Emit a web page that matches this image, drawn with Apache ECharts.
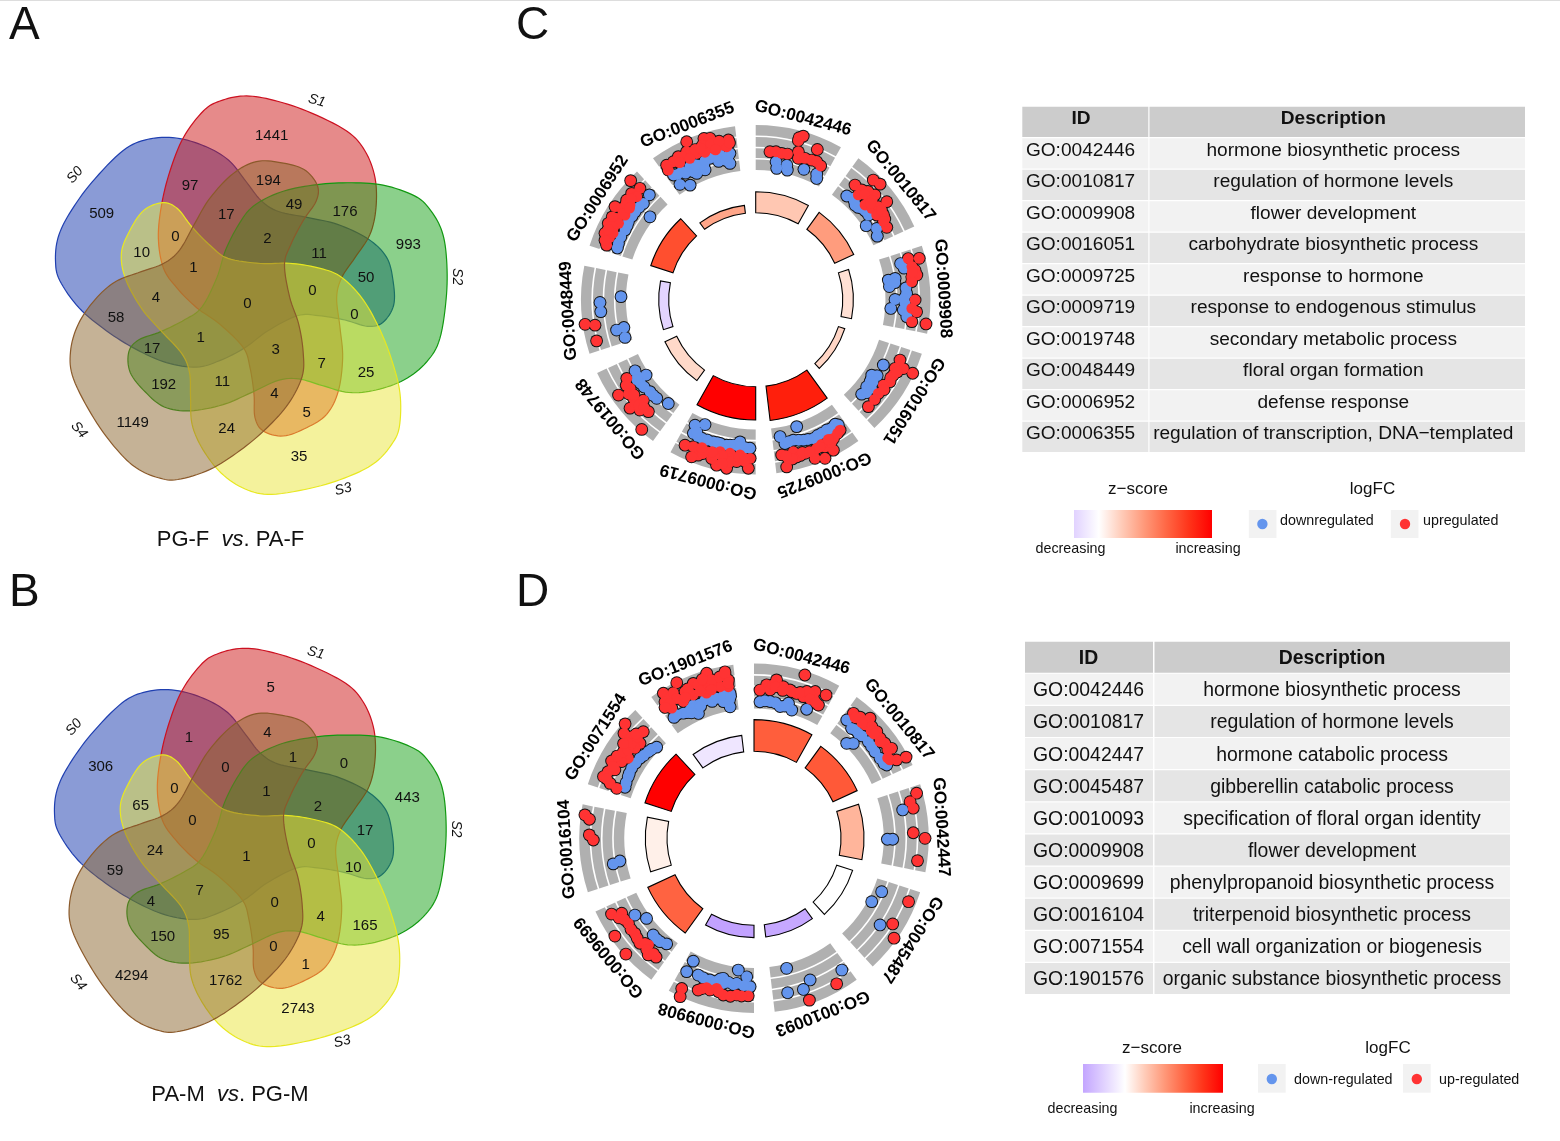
<!DOCTYPE html>
<html><head><meta charset="utf-8">
<style>html,body{margin:0;padding:0;background:#fff}#c{width:1560px;height:1141px}</style>
<script src="https://cdn.jsdelivr.net/npm/echarts@6/dist/echarts.min.js"></script>
</head><body><div id="c"></div>
<script>
// ---------- DATA ----------
const setNames = ['S0','S1','S2','S3','S4'];
const countsA = [509,1441,993,35,1149,97,194,49,176,17,2,11,50,10,0,1,0,0,0,4,58,1,17,3,7,25,192,11,4,5,24];
const countsB = [306,5,443,2743,4294,1,4,1,0,0,1,2,17,65,0,0,1,0,10,24,59,7,4,0,4,165,150,95,0,1,1762];
const countSpots = [[215,400],[725,165],[1135,493],[807,1128],[308,1027],[480,315],[715,300],[792,373],[945,392],[589,403],[712,475],[867,520],[1008,592],[335,517],[436,468],[490,562],[652,670],[847,631],[973,703],[378,652],[258,712],[512,772],[366,805],[737,808],[875,850],[1008,877],[401,912],[577,904],[733,940],[830,996],[590,1043]];
const blobOutline = [[640,45],[720,55],[830,90],[950,150],[1005,210],[1035,290],[1038,380],[1020,460],[975,530],[935,590],[920,650],[930,740],[938,830],[925,930],[890,1000],[830,1040],[760,1065],[700,1050],[675,1010],[672,940],[660,860],[640,800],[570,730],[500,680],[440,620],[400,560],[385,470],[395,370],[420,270],[460,170],[520,90],[570,60]];

const idsC = ['GO:0042446','GO:0010817','GO:0009908','GO:0016051','GO:0009725','GO:0009719','GO:0019748','GO:0048449','GO:0006952','GO:0006355'];
const descC = ['hormone biosynthetic process','regulation of hormone levels','flower development','carbohydrate biosynthetic process','response to hormone','response to endogenous stimulus','secondary metabolic process','floral organ formation','defense response','regulation of transcription, DNA\u2212templated'];
const idsD = ['GO:0042446','GO:0010817','GO:0042447','GO:0045487','GO:0010093','GO:0009908','GO:0009699','GO:0016104','GO:0071554','GO:1901576'];
const descD = ['hormone biosynthetic process','regulation of hormone levels','hormone catabolic process','gibberellin catabolic process','specification of floral organ identity','flower development','phenylpropanoid biosynthetic process','triterpenoid biosynthetic process','cell wall organization or biogenesis','organic substance biosynthetic process'];

const barHeightC = [6.3,6.3,3.2,2.0,10.4,10,3.9,3,7,2.4];
const zScoreC = [2.2,3.9,1.2,1.6,8.8,10,1.5,-1,6.9,3.5];
const barHeightD = [9.5,8,6.9,5,3.7,3.7,9,6.5,8.3,5];
const zScoreD = [6.3,6.5,2.9,0,-2,-2.15,6.1,0.6,10,-0.58];
const sectorStart = [0,36,72,108,144,180,216,252,288,324];
const sectorSpan = 29.2;
const ringLevels = [-3,-1.5,0,1.5,3];

// [logFC, angle in degrees clockwise from top]
const upC = [[2.07,15],[2.42,16.2],[1.67,15],[1.36,22.3],[-.47,5.5],[-.38,7.8],[-.47,10.1],[-.42,12.3],[.24,16.1],[-.6,16.8],[-.33,19.2],[-.24,21.8],[-.16,23.8],[-.47,25.9],
[2.07,44.5],[2.34,47.1],[-.07,40.9],[.07,44],[-.73,44.4],[.11,47.4],[.87,48.7],[1.53,53.2],[-1,49.1],[-.6,51.8],[.24,52.8],[-.6,55],[.16,56.4],[-.33,61.1],[.5,46],[-.1,46],[.1,49.5],[-.3,50],[.3,54.5],[0,58],[-.3,58.5],
[.78,74.9],[2.2,75.8],[1.31,79.5],[1.44,81.3],[.73,81.6],[.64,83.4],[.96,90.1],[.56,93.2],[1.22,94.3],[.73,98],[2.64,98.1],[1,78],[.9,80],
[.56,112.7],[.42,116.2],[1.44,115],[2.82,115.1],[.64,118.7],[.69,121.4],[.2,123.8],[.29,127.4],[.42,133.5],[.6,125],[.4,130],[.5,120],[.9,117],
[2.38,169.5],[.69,170.5],[1.31,168.4],[1.36,165.4],[1.22,162.2],[1.4,159.2],[2.29,159.5],[2.78,156.4],[1.13,157.7],[1.4,154.8],[2.29,152.7],[.91,150.7],[.42,147.1],[.6,166.1],[1.3,164],[1.5,167],[.9,169],[1,163],[1.2,160.5],[.9,155.5],[1.2,152],[.6,148.5],[.7,152.5],[1.1,156.5],
[2.2,182.5],[2.51,189.8],[2.38,193.3],[1.53,191.4],[1.44,186.7],[.87,182],[.51,185.8],[.47,189.5],[.51,193.2],[1,197.9],[1.8,200.3],[2.33,202.2],[1.27,205.9],[1,203],[1.67,195.5],[.9,184],[1.2,189],[1.6,189],[1,192],[1.2,195],[.8,196],[1.4,199],[.7,200],[.8,186],[1.3,184],[2,191.5],
[-.16,238.6],[1.98,235.2],[.2,234.8],[-.2,228.2],[.64,231.1],[1.84,229.2],[1.04,226.4],[.38,223.8],[2.73,221.3],[.4,236.5],[.8,233.5],[.3,232],[1,229],[.7,228],[.4,226],
[2.69,261.8],[1.4,261],[1.62,255.5],
[2.73,313.6],[1.13,313.9],[1.49,310.6],[1.44,307.7],[2.2,303.5],[1.31,304.3],[.69,307],[1.84,297.4],[1.18,300.3],[.47,302.9],[1.67,293.8],[.96,296.6],[.87,290.1],[.64,299.1],[.69,310.9],[1.8,300],[1.2,297],[.9,293],[1.3,291.5],[.7,295],[.8,303],[1.2,306.5],[1.1,309],[.5,306],[1.5,295.5],
[2.69,336.4],[2.29,342.2],[2.07,344.2],[1.31,350.3],[.82,347.6],[.64,344.4],[.78,341.3],[.73,338],[1.49,335],[1.4,331.6],[1.13,329.2],[1.22,326.5],[.56,326],[.47,349.3],[1.1,333],[1.3,338],[1.5,341],[1.3,344],[1.4,347],[.9,350.5],[.6,331],[.5,335],[.5,341],[.4,345],[1.2,340]];
const downC = [[-1.71,8.4],[-2.56,9.1],[-1.89,13],[-2.51,13.7],[-1.76,20.3],[-1.67,25.9],[-2.2,26.7],
[-1.89,41.3],[-1.53,43.9],[-2,46.4],[-1.62,49.2],[-1.49,53.1],[-2.56,56.2],[-1.58,59.5],[-2,62.4],[-1.7,45],[-1.9,48],[-1.5,51],
[-.38,76],[-.07,78],[-1.49,81.3],[-2.42,81.6],[-2.38,84.4],[-1.71,89.9],[-.16,87.6],[-.38,91.4],[-2.24,93.7],[-.56,94],[-.02,96.4],[-1.6,83],[-.2,85.5],[-.5,89.5],
[-1.18,117.1],[-1.84,123],[-1.53,125.6],[-1.49,128.1],[-1.36,131.7],[-.87,127.4],[-1.6,124.5],[-1.2,122],[-1.2,125],[-1,130],
[-1.76,169.9],[-2.51,162.1],[-.73,168.5],[-.91,165],[-.51,161.2],[-.24,157.4],[-.42,153.7],[-.38,149.4],[-.29,146.6],[-.51,151.4],[-.6,147.5],[-.4,155.5],[-.7,163],[-.4,159.5],[-.85,167],[-.35,150],
[-1.71,205.8],[-2.33,202.1],[-.64,205],[-.47,201.3],[-.51,196.6],[-.51,191.3],[-1.22,186.3],[-.47,182.2],[-.56,193.9],[-.69,188.7],[-.5,184],[-.6,186.5],[-.55,195],[-.5,199],[-.5,203],[-1,204],[-.6,190],
[-1.62,239.5],[-2.56,235.5],[-1.31,234.1],[-1.62,229],[-1.67,225.1],[-2.2,220.1],[-1.5,237],[-1.2,236],[-1.4,232],[-1.6,227],
[-2.33,271.3],[.47,269],[.42,265.6],[-1.31,257.7],[-2.33,258.1],[-2.16,253.9],
[-.38,314.6],[-.56,310.6],[-.38,306.1],[-.38,301.5],[-.56,298.1],[-.51,292.3],[-2.38,308.1],[-.45,308.5],[-.4,304],[-.5,300],[-.45,295],[-.6,290.5],
[-1.8,349.3],[-.47,350],[-.42,346.2],[-.47,342.1],[-.78,336.9],[-.51,333.7],[-.56,330],[-.38,326.6],[-1.89,326.7],[-2.69,330.2],[-1.71,335],[-1.71,338.7],[-.6,328],[-1,331],[-1.3,334],[-.6,336],[-1,339],[-.55,340],[-.5,344],[-1.2,345],[-.9,349],[-1.3,348]];
const upD = [[2.51,17.3],[1.04,8.1],[.24,4.7],[-.51,2.3],[-.38,6.2],[.29,10.9],[.07,13.6],[-.16,16.4],[.51,19.8],[.91,22.6],[1.09,26.7],[-.02,23],[-.56,25.8],[-.29,19.2],[.3,7],[.1,8],[-.2,11],[-.1,14.5],[.1,17.6],[.4,21],[-.3,22],[-.4,24.5],
[1,38.5],[1.18,41.2],[1.98,44],[.87,44.4],[1.36,46.5],[1.4,49],[1.18,51.6],[1.27,54],[1.62,56.8],[1.4,61.2],[2.69,61.9],[.64,60],[.5,59],[.9,47.5],[.8,43],[.7,40],[1.1,56.5],[.9,52.5],[.9,49],
[2.2,74.5],[1.09,76.8],[1.31,79.3],[.96,88],[2.51,90],[1.71,97.8],
[1.98,112.3],[1.44,121.7],[2.64,125.5],
[2.02,150.4],[2.51,161.1],
[1.93,205.7],[3,205],[1.27,200.2],[.78,196.2],[1,191.1],[.73,186.3],[.73,182.1],[.33,194],[.9,199],[.7,193],[1,188.5],[.8,184.5],[.6,197.6],
[1.22,242],[-.02,240.5],[-.07,235.9],[2.38,234.9],[.02,231.4],[.38,227.4],[2.73,227.9],[-.29,224.7],[.69,222.2],[.24,219.5],[.6,239.5],[.1,238],[.1,233.5],[.2,229.5],[-.1,226],[.3,224],[.1,221],
[2.47,277.9],[1.8,276.6],[1.67,271.2],[1.13,269.4],
[2.69,311.6],[1.98,308.9],[.91,309.7],[.2,313.9],[-.51,309.8],[-.38,307.1],[-.42,302.5],[.11,300.1],[1.31,298.5],[.38,296.2],[1.4,292.3],[.24,290.9],[-.82,290],[1.1,294.5],[.9,292],[.8,297],[1,301],[.6,303.5],[.2,305],[.4,307.5],[.9,307],[.3,311],[1.2,306],[.7,311.5],
[2.24,350.1],[2.6,344],[2.87,333.6],[2.51,328],[1.44,326.9],[1.58,329.8],[1.31,334.8],[1.89,338.6],[1.22,341.7],[.96,346.5],[1.09,350.8],[.2,350.4],[.24,327.7],[.24,332.7],[.47,337],[.07,341.9],[.42,347.4],[1.9,331],[1,331],[1,336],[1.5,336],[1.5,340],[1.7,343],[.9,344.5],[1.6,345],[1.7,348],[2,350],[.7,350.5],[.9,328],[.8,325.8],[.6,340],[.6,334],[.3,344],[2,342]];
const downD = [[-2.07,2.5],[-1.93,6.7],[-2.38,11.2],[-2.47,16.4],[-1.71,22.2],[-1.71,14.3],[-1.9,4.5],[-2,9],[-2.2,13],
[-.24,38.1],[-.69,41.6],[-.56,44.8],[-.33,49.8],[-.47,54.4],[-.38,57.6],[-.07,61.1],[-2.6,44.3],[-1.98,46.3],[-.4,52],[-.45,46.5],[-.5,43],[-.3,60],
[-.11,79.2],[-2.51,90.4],[-1.8,90.4],
[-1.84,112.7],[-2.47,118.3],[.11,124.5],
[-2.42,165.9],[.82,146.3],[.02,158.4],[.91,161.9],[.78,167.7],
[-2.02,206.3],[-.38,206.8],[-.6,202.2],[-.51,197.3],[-1.18,192.4],[-2.6,186.8],[-.82,186.8],[-1.8,183],[-.51,181.5],[-.5,200],[-.55,195],[-.8,190],[-.6,184],[-.6,188],[-1,193.5],[-.5,192],
[-1.4,237.2],[-2.42,233.3],[-1.67,226.2],[-1.67,222.3],[-2.02,219.6],[-1.6,224],
[-1.22,259.7],[-2.16,260.4],
[-2.51,313.1],[-2.07,309.4],[-1.71,305.1],[-1.49,299.8],[-1.62,296.1],[-1.8,291.6],[-1.6,302.5],[-1.55,297.5],[-1.9,307],[-1.7,293.5],[-2.2,311],
[-.96,326.5],[-1.13,330.5],[-2.07,336],[-.78,335.5],[-.73,340.5],[-.96,345.1],[-.69,350.6],[-2.47,349.7],[-1.62,347.4],[-.85,328],[-1.3,332],[-1.1,334],[-1,338],[-1.3,338],[-.8,343],[-1.2,343],[-.8,348],[-1.5,350],[-1.1,350.6],[-1.6,333.5]];

// ---------- STYLE ----------
const FONT = '"Liberation Sans", Arial, sans-serif';
const setStyle = [
  {fill:'rgba(21,55,173,0.5)', stroke:'#1f3fb0', rot:-72, dx:15, dy:-15},
  {fill:'rgba(205,21,21,0.5)', stroke:'#cc1020', rot:0, dx:0, dy:3},
  {fill:'rgba(23,161,23,0.5)', stroke:'#119911', rot:72, dx:-5, dy:-3},
  {fill:'rgba(233,229,57,0.5)', stroke:'#e8e820', rot:144, dx:0, dy:0},
  {fill:'rgba(139,101,45,0.5)', stroke:'#8b5a2b', rot:216, dx:5, dy:-5}
];
const setLabelSpots = [[135,285,50],[860,62,-15],[1280,590,-90],[940,1228,15],[147,1050,-50]];

function zColor(z){
  if(z>=0){const t=Math.min(1,z/10),k=1-t;return `rgb(255,${Math.round(255*k)},${Math.round(255*Math.pow(k,1.45))})`;}
  const t=Math.min(1,-z/2.3);return `rgb(${Math.round(255-65*t)},${Math.round(255-100*t)},255)`;
}
function densify(pts){
  const out=[],n=pts.length;
  for(let i=0;i<n;i++){
    const p0=pts[(i-1+n)%n],p1=pts[i],p2=pts[(i+1)%n],p3=pts[(i+2)%n];
    for(let s=0;s<8;s++){
      const t=s/8,t2=t*t,t3=t2*t;
      out.push([0,1].map(d=>0.5*(2*p1[d]+(p2[d]-p0[d])*t+(2*p0[d]-5*p1[d]+4*p2[d]-p3[d])*t2+(3*p1[d]-p0[d]-3*p2[d]+p3[d])*t3)));
    }
  }
  return out;
}
const smoothBlob = densify(blobOutline);
function rotated(pts,st){
  const a=st.rot*Math.PI/180,c=Math.cos(a),s=Math.sin(a);
  return pts.map(p=>{const x=p[0]-660,y=p[1]-660;return [660+x*c-y*s+st.dx,660+x*s+y*c+st.dy];});
}

const grid=[],xAxis=[],yAxis=[],polar=[],angleAxis=[],radiusAxis=[],series=[];
function addGrid(l,t,w,h,xmax,ymax){
  grid.push({left:l,top:t,width:w,height:h,containLabel:false,show:false});
  xAxis.push({type:'value',gridIndex:grid.length-1,min:0,max:xmax,show:false});
  yAxis.push({type:'value',gridIndex:grid.length-1,min:0,max:ymax,inverse:true,show:false});
  return grid.length-1;
}
function addPolar(cx,cy,r0,r1,rmin,rmax){
  polar.push({center:[cx,cy],radius:[r0,r1]});
  const i=polar.length-1;
  angleAxis.push({type:'value',polarIndex:i,min:0,max:360,startAngle:90,clockwise:true,show:false,splitLine:{show:false},axisLine:{show:false},axisTick:{show:false},axisLabel:{show:false}});
  radiusAxis.push({type:'value',polarIndex:i,min:rmin,max:rmax,show:false,splitLine:{show:false},axisLine:{show:false},axisTick:{show:false},axisLabel:{show:false}});
  return i;
}

function addVenn(l,t,counts){
  const g=addGrid(l,t,440,440,1320,1320);
  series.push({type:'custom',coordinateSystem:'cartesian2d',xAxisIndex:g,yAxisIndex:g,silent:true,z:2,
    data:setNames.map((_,i)=>[i,i]),
    renderItem(p,api){
      const st=setStyle[p.dataIndex];
      return {type:'polygon',shape:{points:rotated(smoothBlob,st).map(q=>api.coord(q))},style:{fill:st.fill,stroke:st.stroke,lineWidth:1.2}};
    }});
  series.push({type:'custom',coordinateSystem:'cartesian2d',xAxisIndex:g,yAxisIndex:g,silent:true,z:3,
    data:counts.map((_,i)=>countSpots[i]),
    renderItem(p,api){
      const c=api.coord([api.value(0),api.value(1)]);
      return {type:'text',x:c[0],y:c[1]+1,style:{text:String(counts[p.dataIndex]),font:`15px ${FONT}`,fill:'#111',align:'center',verticalAlign:'middle'}};
    }});
  series.push({type:'custom',coordinateSystem:'cartesian2d',xAxisIndex:g,yAxisIndex:g,silent:true,z:3,
    data:setLabelSpots.map(s=>[s[0],s[1]]),
    renderItem(p,api){
      const c=api.coord([api.value(0),api.value(1)]);
      return {type:'text',x:c[0],y:c[1],rotation:setLabelSpots[p.dataIndex][2]*Math.PI/180,style:{text:setNames[p.dataIndex],font:`italic 14px ${FONT}`,fill:'#111',align:'center',verticalAlign:'middle'}};
    }});
}

function addCircle(cx,cy,ids,heights,zs,up,down){
  const pb=addPolar(cx,cy,87,133,0,13.8);
  const pd=addPolar(cx,cy,129.7,174.7,-3,3);
  const ang=(api,p,v,a)=>{const c=api.coord([v,a]);return [Math.hypot(c[0]-p.coordSys.cx,c[1]-p.coordSys.cy),Math.atan2(c[1]-p.coordSys.cy,c[0]-p.coordSys.cx)];};
  const ringData=[];sectorStart.forEach(s=>{for(let b=0;b<4;b++)ringData.push([ringLevels[b],s,ringLevels[b+1]]);});
  series.push({type:'custom',coordinateSystem:'polar',polarIndex:pd,silent:true,z:2,data:ringData,
    renderItem(p,api){
      const lo=api.value(0),a=api.value(1),hi=api.value(2);
      const A=ang(api,p,lo,a),B=ang(api,p,hi,a+sectorSpan);
      const g0=lo===ringLevels[0]?0:0.8,g1=hi===ringLevels[4]?0:0.8;
      return {type:'sector',shape:{cx:p.coordSys.cx,cy:p.coordSys.cy,r0:A[0]+g0,r:B[0]-g1,startAngle:A[1],endAngle:B[1],clockwise:true},style:{fill:'#b0b0b0'}};
    }});
  series.push({type:'custom',coordinateSystem:'polar',polarIndex:pb,silent:true,z:3,data:heights.map((h,i)=>[h,sectorStart[i]]),
    renderItem(p,api){
      const h=api.value(0),a=api.value(1);
      const A=ang(api,p,0,a),B=ang(api,p,h,a+sectorSpan);
      return {type:'sector',shape:{cx:p.coordSys.cx,cy:p.coordSys.cy,r0:A[0],r:B[0],startAngle:A[1],endAngle:B[1],clockwise:true},style:{fill:zColor(zs[p.dataIndex]),stroke:'#000',lineWidth:1.1}};
    }});
  const pts=(d,size,color,z)=>({type:'scatter',coordinateSystem:'polar',polarIndex:pd,silent:true,clip:false,z,data:d,symbol:'circle',symbolSize:size,itemStyle:{color,opacity:1},animation:false});
  series.push(pts(down.concat(up),12.8,'#111',4));
  series.push(pts(down,10.9,'#6495ed',5));
  series.push(pts(up,10.9,'#ff3333',6));
  series.push({type:'custom',coordinateSystem:'polar',polarIndex:pd,silent:true,z:7,data:sectorStart.map(s=>[4.7,s+sectorSpan/2]),
    renderItem(p,api){
      const a=api.value(1),c=api.coord([api.value(0),a]);
      return {type:'text',x:c[0],y:c[1],rotation:-a*Math.PI/180,style:{text:ids[p.dataIndex],font:`bold 17.2px ${FONT}`,fill:'#000',align:'center',verticalAlign:'middle'}};
    }});
}

function addTable(l,t,w,h,cols,idCenter,idBodyX,idBodyAlign,descCenter,dy,ids,desc,fs){
  const g=addGrid(l,t,w,h,w,11);
  const cells=[];for(let r=0;r<11;r++)for(let c=0;c<2;c++)cells.push([c,r]);
  series.push({type:'custom',coordinateSystem:'cartesian2d',xAxisIndex:g,yAxisIndex:g,silent:true,z:2,data:cells,
    renderItem(p,api){
      const c=api.value(0),r=api.value(1);
      const a=api.coord([cols[c][0],r]),b=api.coord([cols[c][1],r+1]);
      const fill=r===0?'#cccccc':(r%2===1?'#f2f2f2':'#e5e5e5');
      const txt=r===0?(c===0?'ID':'Description'):(c===0?ids[r-1]:desc[r-1]);
      let tx,al='center';
      if(c===1)tx=api.coord([descCenter,r])[0];
      else if(r===0)tx=api.coord([idCenter,r])[0];
      else {tx=api.coord([idBodyX,r])[0];al=idBodyAlign;}
      const ty=(a[1]+b[1])/2+dy;
      return {type:'group',children:[
        {type:'rect',shape:{x:a[0],y:a[1],width:b[0]-a[0],height:b[1]-a[1]-1.2},style:{fill}},
        {type:'text',x:tx,y:ty,style:{text:txt,font:`${r===0?'bold ':''}${fs}px ${FONT}`,fill:'#111',align:al,verticalAlign:'middle'}}
      ]};
    }});
}

addVenn(30,80,countsA);
addVenn(29,632.3,countsB);
addCircle(755.7,299.7,idsC,barHeightC,zScoreC,upC,downC);
addCircle(754,838.3,idsD,barHeightD,zScoreD,upD,downD);
addTable(1022.3,106.7,502.7,346.5,[[0,126],[127.2,502.7]],58.7,3.6,'left',311,-3.5,idsC,descC,19.1);
addTable(1025,641.7,485,353.5,[[0,128],[129.5,485]],63.5,63.5,'center',307,1,idsD,descD,19.4);

// ---------- LEGENDS & ANNOTATION ----------
const T=(x,y,text,font,extra)=>({type:'text',x,y,silent:true,style:Object.assign({text,font:`${font} ${FONT}`,fill:'#111',align:'center',verticalAlign:'middle'},extra||{})});
const gradStops=(low,wpos)=>{
  const st=[{offset:0,color:low},{offset:wpos,color:'#ffffff'}];
  [2,4,6,8,10].forEach(z=>st.push({offset:wpos+(1-wpos)*z/10,color:zColor(z)}));
  return st;
};
const legend=(o)=>[
  T(o.zx,o.ty,'z\u2212score','17px'),T(o.lx,o.ty,'logFC','17px'),
  {type:'rect',silent:true,shape:{x:o.gx0,y:o.gy0,width:o.gx1-o.gx0,height:o.gy1-o.gy0},style:{fill:{type:'linear',x:0,y:0,x2:1,y2:0,colorStops:gradStops(o.low,o.wpos)}}},
  T(o.dx,o.sy,'decreasing','14.3px'),T(o.ix,o.sy,'increasing','14.3px'),
  {type:'rect',silent:true,shape:{x:o.b1,y:o.gy0,width:27.7,height:o.gy1-o.gy0},style:{fill:'#f2f2f2'}},
  {type:'rect',silent:true,shape:{x:o.b2,y:o.gy0,width:27.7,height:o.gy1-o.gy0},style:{fill:'#f2f2f2'}},
  {type:'circle',silent:true,shape:{cx:o.c1,cy:o.cy,r:5.2},style:{fill:'#6495ed'}},
  {type:'circle',silent:true,shape:{cx:o.c2,cy:o.cy,r:5.2},style:{fill:'#ff3333'}},
  T(o.t1,o.ly,o.down,'14.3px',{align:'left'}),T(o.t2,o.ly,o.up,'14.3px',{align:'left'})
];
const caption=(x,y,a,b)=>({type:'text',x,y,silent:true,style:{text:`{r|${a}  }{i|vs}{r|. ${b}}`,align:'center',verticalAlign:'middle',rich:{r:{font:`22px ${FONT}`,fill:'#111'},i:{font:`italic 22px ${FONT}`,fill:'#111'}}}});
const graphic=[
  {type:'rect',silent:true,shape:{x:0,y:0,width:1560,height:1},style:{fill:'#dddddd'}},
  T(9,26,'A','46px',{align:'left'}),T(516,26,'C','46px',{align:'left'}),
  T(9,593,'B','46px',{align:'left'}),T(516,593,'D','46px',{align:'left'}),
  caption(230.5,539.5,'PG-F','PA-F'),caption(230,1095,'PA-M','PG-M'),
  ...legend({zx:1138,lx:1372.5,ty:489,gx0:1074,gx1:1212,gy0:510,gy1:538,low:'rgb(225,210,255)',wpos:.18,dx:1070.5,ix:1208,sy:549,b1:1248.8,b2:1390.8,c1:1262.4,c2:1405,cy:524,t1:1280,t2:1423,ly:521,down:'downregulated',up:'upregulated'}),
  ...legend({zx:1152,lx:1388,ty:1048,gx0:1083,gx1:1223,gy0:1064,gy1:1092.7,low:'rgb(195,165,255)',wpos:.3,dx:1082.5,ix:1222,sy:1109,b1:1258,b2:1403,c1:1271.8,c2:1416.8,cy:1079,t1:1294,t2:1439,ly:1080,down:'down-regulated',up:'up-regulated'})
];

const chart=echarts.init(document.getElementById('c'),null,{width:1560,height:1141,renderer:'canvas'});
chart.setOption({animation:false,backgroundColor:'#fff',grid,xAxis,yAxis,polar,angleAxis,radiusAxis,series,graphic});
</script></body></html>
